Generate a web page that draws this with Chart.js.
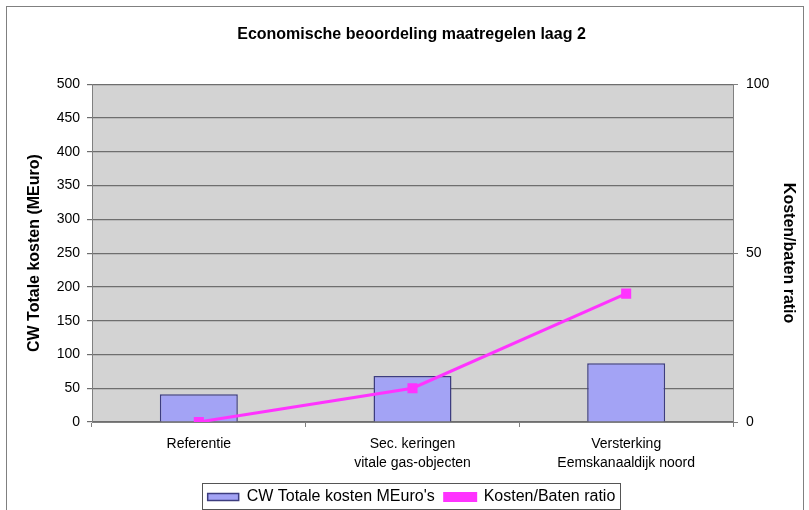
<!DOCTYPE html>
<html>
<head>
<meta charset="utf-8">
<script src="https://cdn.jsdelivr.net/npm/chart.js@4/dist/chart.umd.min.js"></script>
<style>
    html, body { margin: 0; padding: 0; background: #fff; }
    #wrap { width: 809px; height: 510px; }
</style>
</head>
<body>
<div id="wrap"><canvas id="chart" width="809" height="510"></canvas></div>
<script>
    const categories = [
        'Referentie',
        ['Sec. keringen', 'vitale gas-objecten'],
        ['Versterking', 'Eemskanaaldijk noord']
    ];
    const kosten = [41, 68, 87];
    const ratio = [0, 10, 38];
    const leftTicks = [0, 50, 100, 150, 200, 250, 300, 350, 400, 450, 500];
    const rightTicks = [0, 50, 100];

    const fontFamily = '"Liberation Sans", Arial, sans-serif';

    // frame, plot background and legend border
    const decorations = {
        id: 'decorations',
        beforeLayout: function (chart) {
            const lg = chart.legend;
            if (lg && !lg._patched) {
                const fit = lg.fit;
                lg.fit = function () {
                    fit.call(this);
                    this.height = 31;
                };
                lg._patched = true;
            }
        },
        beforeDraw: function (chart) {
            const ctx = chart.ctx;
            const area = chart.chartArea;
            ctx.save();
            ctx.fillStyle = '#ffffff';
            ctx.fillRect(0, 0, chart.width, chart.height);
            ctx.strokeStyle = '#808080';
            ctx.lineWidth = 1;
            ctx.strokeRect(6.5, 6.5, 797, 510);
            ctx.fillStyle = '#d3d3d3';
            ctx.fillRect(area.left, area.top, area.right - area.left, area.bottom - area.top);
            ctx.restore();
        },
        afterDraw: function (chart) {
            const lg = chart.legend;
            if (!lg) {
                return;
            }
            const ctx = chart.ctx;
            const boxes = lg.legendHitBoxes;
            const left = boxes[0].left - 6;
            const last = boxes[boxes.length - 1];
            const right = last.left + last.width + 4;
            ctx.save();
            ctx.strokeStyle = '#555555';
            ctx.lineWidth = 1;
            ctx.strokeRect(Math.round(left) + 0.5, Math.round(boxes[0].top) - 5.5, Math.round(right - left), 26);
            ctx.restore();
        }
    };

    new Chart(document.getElementById('chart'), {
        data: {
            labels: categories,
            datasets: [{
                type: 'line',
                label: 'Kosten/Baten ratio',
                data: ratio,
                yAxisID: 'y2',
                borderColor: '#ff33ff',
                backgroundColor: '#ff33ff',
                borderWidth: 3,
                pointStyle: 'rect',
                pointRadius: 5,
                pointBackgroundColor: '#ff33ff',
                pointBorderColor: '#ff33ff',
                tension: 0,
                order: 0
            }, {
                type: 'bar',
                label: 'CW Totale kosten MEuro\'s',
                data: kosten,
                yAxisID: 'y',
                backgroundColor: '#a3a3f5',
                borderColor: '#3d3d80',
                borderWidth: 1.5,
                barPercentage: 0.365,
                categoryPercentage: 1,
                order: 1
            }]
        },
        options: {
            responsive: false,
            animation: false,
            layout: {
                padding: { left: 21, right: 7, top: 8, bottom: 0 }
            },
            plugins: {
                title: {
                    display: true,
                    text: 'Economische beoordeling maatregelen laag 2',
                    color: '#000',
                    font: { family: fontFamily, size: 16, weight: 'bold' },
                    padding: { top: 17, bottom: 40 }
                },
                legend: {
                    position: 'bottom',
                    reverse: true,
                    labels: {
                        color: '#000',
                        font: { family: fontFamily, size: 16 },
                        boxWidth: 31,
                        boxHeight: 7,
                        padding: 10
                    }
                },
                tooltip: { enabled: false }
            },
            scales: {
                x: {
                    grid: {
                        display: true,
                        drawOnChartArea: false,
                        drawTicks: true,
                        tickLength: 5,
                        offset: true,
                        color: '#808080'
                    },
                    border: { color: '#808080' },
                    ticks: {
                        color: '#000',
                        font: { family: fontFamily, size: 14, lineHeight: 1.4 },
                        padding: 7,
                        maxRotation: 0
                    },
                    afterFit: function (scale) { scale.height = 57; }
                },
                y: {
                    position: 'left',
                    min: 0,
                    max: 500,
                    afterBuildTicks: function (scale) {
                        scale.ticks = leftTicks.map(function (v) { return { value: v }; });
                    },
                    grid: { color: '#6e6e6e', tickLength: 5, lineWidth: 1.2 },
                    border: { color: '#808080' },
                    ticks: {
                        color: '#000',
                        font: { family: fontFamily, size: 14 },
                        padding: 7
                    },
                    title: {
                        display: true,
                        text: 'CW Totale kosten (MEuro)',
                        color: '#000',
                        font: { family: fontFamily, size: 16, weight: 'bold' },
                        padding: 4
                    },
                    afterFit: function (scale) { scale.width = 71; }
                },
                y2: {
                    position: 'right',
                    min: 0,
                    max: 100,
                    afterBuildTicks: function (scale) {
                        scale.ticks = rightTicks.map(function (v) { return { value: v }; });
                    },
                    grid: { drawOnChartArea: false, tickLength: 5, color: '#808080' },
                    border: { color: '#808080' },
                    ticks: {
                        color: '#000',
                        font: { family: fontFamily, size: 14 },
                        padding: 8
                    },
                    title: {
                        display: true,
                        text: 'Kosten/baten ratio',
                        color: '#000',
                        font: { family: fontFamily, size: 16, weight: 'bold' },
                        padding: 4
                    },
                    afterFit: function (scale) { scale.width = 69; }
                }
            }
        },
        plugins: [decorations]
    });
</script>
</body>
</html>
